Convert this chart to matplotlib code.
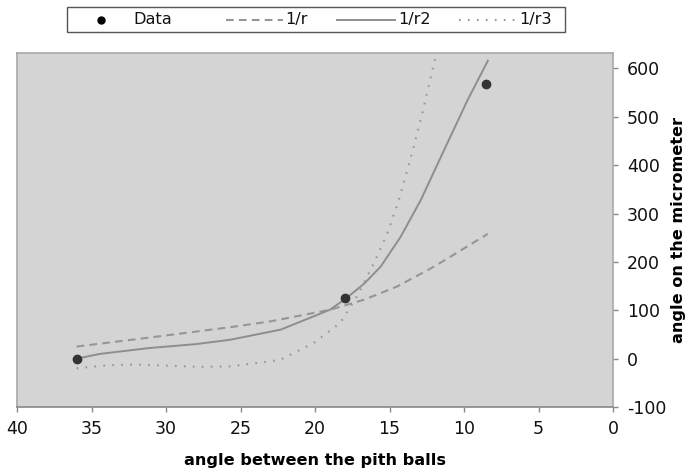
import matplotlib
matplotlib.use("Agg")
import matplotlib.pyplot as plt
from matplotlib.lines import Line2D
from matplotlib.patches import Rectangle

plt.rcParams["axes.unicode_minus"] = False

# ── data ───────────────────────────────────────────────────────────────────────

data_x = [36, 18, 8.5]
data_y = [0, 125, 568]

# 1/r model (dashed)
r1_x = [36, 31, 25.7, 23, 19, 16.7, 14.5, 12.2, 10.9, 8.4]
r1_y = [25, 44, 65, 77, 101, 122, 149, 187, 211, 258]

# 1/r2 model (solid)
r2_x = [36, 34.4, 31.1, 28, 25.7, 22.3, 19, 17.9, 16.7, 15.6, 14.25, 12.9, 11.34, 9.77, 8.4]
r2_y = [0, 10, 22, 30, 39, 60, 101, 125, 155, 190, 252, 328, 431, 534, 616]

# 1/r3 model (dotted)
r3_x = [36, 34, 32.2, 29.5, 27.7, 25.7, 23, 22.3, 20.1, 18.3, 17.2, 16.05, 15.15, 14.4, 13.4, 12.7, 11.85]
r3_y = [-20, -14, -12, -15, -17, -16, -5.5, -2, 32, 74, 128, 197, 259, 325, 435, 520, 632]

x_ticks = [40, 35, 30, 25, 20, 15, 10, 5, 0]
y_ticks = [-100, 0, 100, 200, 300, 400, 500, 600]

legend_labels = ["Data", "1/r", "1/r2", "1/r3"]

# ── figure ─────────────────────────────────────────────────────────────────────

W, H = 690, 470
fig = plt.figure(figsize=(W / 100, H / 100), dpi=100)
fig.patch.set_facecolor("white")

left, right, top, bottom = 17, 613, 53, 407
ax = fig.add_axes([left / W, 1 - bottom / H, (right - left) / W, (bottom - top) / H])
ax.set_facecolor("#d4d4d4")

line_col = "#969696"
solid_col = "#8e8e8e"
dash = (0, (3.7, 2.5))
dot = (0, (0.8, 3.5))
ax.plot(r1_x, r1_y, color=line_col, lw=1.5, linestyle=dash)
ax.plot(r2_x, r2_y, color=solid_col, lw=1.4, linestyle="-")
ax.plot(r3_x, r3_y, color=line_col, lw=1.5, linestyle=dot)
ax.plot(data_x, data_y, "o", color="#333333", markersize=6, zorder=5)

ax.set_xlim(40, 0)
ax.set_ylim(-100, 632)
ax.set_xticks(x_ticks)
ax.set_yticks(y_ticks)

ax.yaxis.tick_right()
ax.yaxis.set_label_position("right")
ax.tick_params(axis="both", direction="out", length=3.6, width=1, color="#888888",
               labelsize=12.5, labelcolor="#111111")
ax.tick_params(axis="x", pad=5.8)
ax.tick_params(axis="y", pad=6.5)

for side in ["left", "top", "right"]:
    ax.spines[side].set_color("#a8a8a8")
    ax.spines[side].set_linewidth(1.2)
ax.spines["bottom"].set_color("#888888")
ax.spines["bottom"].set_linewidth(1.2)

ax.set_xlabel("angle between the pith balls", fontsize=11.6, fontweight="bold")
ax.xaxis.set_label_coords(0.5, (407 - 453) / (bottom - top))
ax.set_ylabel("angle on the micrometer", fontsize=11.6, fontweight="bold", rotation=90,
              va="center")
ax.yaxis.set_label_coords((679 - left) / (right - left), 0.5)

# ── legend box above the plot, laid out like the Excel one ─────────────────────

def fx(px):
    return px / W

def fy(py):
    return 1 - py / H

box_l, box_r, box_t, box_b = 67, 565, 7, 32
yc = fy((box_t + box_b) / 2)
fig.patches.append(Rectangle((fx(box_l), fy(box_b)), fx(box_r - box_l), (box_b - box_t) / H,
                             transform=fig.transFigure, facecolor="white",
                             edgecolor="#555555", lw=1.0))

fig.lines.append(Line2D([fx(101)], [yc], marker="o", color="black", markersize=5,
                        linestyle="none", transform=fig.transFigure))
fig.lines.append(Line2D([fx(226), fx(283)], [yc, yc], color=line_col, lw=1.5,
                        linestyle=dash, transform=fig.transFigure))
fig.lines.append(Line2D([fx(337), fx(395)], [yc, yc], color=solid_col, lw=1.4,
                        transform=fig.transFigure))
fig.lines.append(Line2D([fx(459), fx(516)], [yc, yc], color=line_col, lw=1.5,
                        linestyle=dot, transform=fig.transFigure))

for px, txt in zip([133, 285, 398, 519], legend_labels):
    fig.text(fx(px), yc, txt, fontsize=11.6, va="center", ha="left", color="#111111")

fig.savefig("out.png", dpi=100)
